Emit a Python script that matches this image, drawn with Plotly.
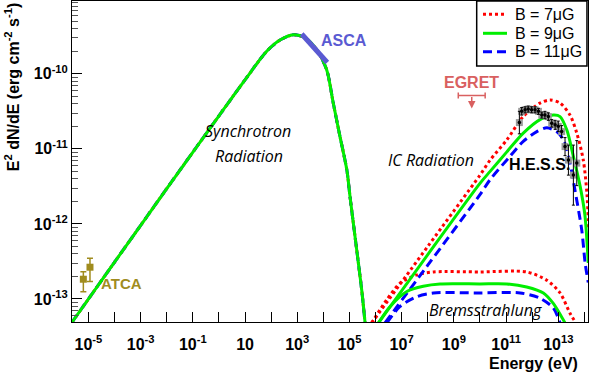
import numpy as np
import plotly.graph_objects as go

# ---------------- data (log10 E [eV], log10 E^2dN/dE [erg cm^-2 s^-1]) ----------------
sync_logE = [-5.63, -4.0, -2.0, 0.0, 1.0, 1.83, 2.34, 2.85, 3.30, 3.75, 4.13, 4.38, 4.64, 4.90, 5.03, 5.28, 5.47, 5.60]
sync_logF = [-13.31, -12.51, -11.53, -10.56, -10.08, -9.70, -9.55, -9.48, -9.52, -9.68, -9.95, -10.39, -10.84, -11.28, -11.66, -12.35, -12.88, -13.32]

ic7_logE = [5.85, 8.0, 10.0, 10.39, 11.03, 11.66, 12.30, 12.69, 13.07, 13.45, 13.71, 13.96, 14.10, 14.16]
ic7_logF = [-13.32, -12.30, -11.35, -11.15, -10.88, -10.57, -10.39, -10.35, -10.39, -10.55, -10.79, -11.15, -11.60, -12.05]
ic9_logE = [6.11, 8.0, 10.0, 10.39, 11.03, 11.66, 12.30, 12.81, 13.07, 13.33, 13.58, 13.84, 14.02, 14.15]
ic9_logF = [-13.32, -12.41, -11.46, -11.30, -11.04, -10.79, -10.61, -10.55, -10.57, -10.75, -11.10, -11.50, -11.88, -12.52]
ic11_logE = [6.36, 8.0, 10.0, 10.39, 11.15, 11.66, 12.18, 12.56, 12.94, 13.20, 13.45, 13.64, 13.90, 14.03, 14.15]
ic11_logF = [-13.32, -12.55, -11.61, -11.41, -11.10, -10.90, -10.77, -10.72, -10.77, -10.88, -11.19, -11.55, -12.08, -12.52, -12.78]

br7_logE = [5.85, 6.43, 6.94, 7.58, 8.22, 10.0, 11.79, 12.56, 13.07, 13.45, 13.64]
br7_logF = [-13.32, -13.01, -12.79, -12.68, -12.64, -12.64, -12.64, -12.75, -12.92, -13.19, -13.30]
br9_logE = [6.11, 6.56, 7.20, 7.83, 8.47, 10.0, 11.03, 11.79, 12.43, 12.81, 13.13, 13.26]
br9_logF = [-13.32, -13.10, -12.90, -12.83, -12.80, -12.80, -12.80, -12.84, -12.92, -13.06, -13.24, -13.32]
br11_logE = [6.43, 6.94, 7.58, 8.22, 10.0, 11.54, 12.30, 12.81, 13.07]
br11_logF = [-13.32, -13.10, -12.97, -12.92, -12.92, -12.92, -12.99, -13.12, -13.32]

hess_logE = [11.51, 11.60, 11.73, 11.85, 11.98, 12.11, 12.24, 12.37, 12.49, 12.62, 12.75, 12.88, 13.00, 13.13, 13.26, 13.39, 13.58, 13.71]
hess_logF = [-10.65, -10.50, -10.48, -10.47, -10.48, -10.48, -10.50, -10.55, -10.55, -10.57, -10.66, -10.68, -10.70, -10.77, -10.97, -11.15, -11.35, -11.19]
hess_err = [0.15, 0.05, 0.04, 0.04, 0.04, 0.04, 0.04, 0.04, 0.05, 0.05, 0.05, 0.06, 0.07, 0.08, 0.12, 0.20, 0.40, 0.30]

atca_logE = [-5.195, -4.941]
atca_logF = [-12.737, -12.577]
atca_logF_hi = [-12.636, -12.457]
atca_logF_lo = [-12.903, -12.769]

asca_logE = [3.17, 4.15]
asca_logF = [-9.47, -9.85]

egret_logE = [9.686]
egret_logE_lo = [9.17]
egret_logE_hi = [10.20]
egret_logF = [-10.29]

legend_labels = ["B = 7\u03bcG", "B = 9\u03bcG", "B = 11\u03bcG"]

x_label_exp = [-5, -3, -1, 1, 3, 5, 7, 9, 11, 13]
x_label_text = ["10<sup>-5</sup>", "10<sup>-3</sup>", "10<sup>-1</sup>", "10", "10<sup>3</sup>",
                "10<sup>5</sup>", "10<sup>7</sup>", "10<sup>9</sup>", "10<sup>11</sup>", "10<sup>13</sup>"]
x_minor_exp = [-4, -2, 0, 2, 4, 6, 8, 10, 12, 14]
y_tick_exp = [-13, -12, -11, -10]
y_tick_text = ["10<sup>-13</sup>", "10<sup>-12</sup>", "10<sup>-11</sup>", "10<sup>-10</sup>"]

RED, GREEN, BLUE = "#ff0000", "#00ee00", "#0000ff"
FONT = "Liberation Sans"
IT_FONT = "Open Sans"

STYLE7 = dict(color=RED, width=3, dash="dot")
STYLE9 = dict(color=GREEN, width=3)
STYLE11 = dict(color=BLUE, width=3, dash="9px,5px")


def p(v):
    return 10.0 ** np.asarray(v, dtype=float)


def model(ic_e, ic_f, br_e, br_f):
    xs = list(sync_logE) + [np.nan] + list(ic_e) + [np.nan] + list(br_e)
    ys = list(sync_logF) + [np.nan] + list(ic_f) + [np.nan] + list(br_f)
    return p(xs), p(ys)


fig = go.Figure()

models = [
    (legend_labels[0], ic7_logE, ic7_logF, br7_logE, br7_logF, STYLE7),
    (legend_labels[2], ic11_logE, ic11_logF, br11_logE, br11_logF, STYLE11),
    (legend_labels[1], ic9_logE, ic9_logF, br9_logE, br9_logF, STYLE9),
]
for name, ie, iff, be, bf, line in models:
    xs, ys = model(ie, iff, be, bf)
    fig.add_trace(go.Scatter(x=xs, y=ys, mode="lines", name=name, line=dict(shape="spline", smoothing=0.8, **line),
                             connectgaps=False, showlegend=False, hoverinfo="skip"))

# ASCA
fig.add_trace(go.Scatter(x=p(asca_logE), y=p(asca_logF), mode="lines", line=dict(color="#5a5ad2", width=5),
                         showlegend=False))

# ATCA
aF = p(atca_logF)
fig.add_trace(go.Scatter(x=p(atca_logE), y=aF, mode="markers",
                         marker=dict(symbol="square", size=7, color="#a08c1e"),
                         error_y=dict(type="data", symmetric=False, array=p(atca_logF_hi) - aF,
                                      arrayminus=aF - p(atca_logF_lo), color="#a08c1e", thickness=1.5, width=3),
                         showlegend=False))

# EGRET upper limit
eE = p(egret_logE)
fig.add_trace(go.Scatter(x=eE, y=p(egret_logF), mode="markers", marker=dict(size=1, color="#d96060"),
                         error_x=dict(type="data", symmetric=False, array=p(egret_logE_hi) - eE,
                                      arrayminus=eE - p(egret_logE_lo), color="#d96060", thickness=1.5, width=3),
                         showlegend=False))

# HESS
hF = p(hess_logF)
herr = np.asarray(hess_err)
fig.add_trace(go.Scatter(x=p(hess_logE), y=hF, mode="markers",
                         marker=dict(symbol="square", size=7, color="#9a9a9a"), showlegend=False))
fig.add_trace(go.Scatter(x=p(hess_logE), y=hF, mode="markers",
                         marker=dict(symbol="circle", size=3.5, color="black"),
                         error_y=dict(type="data", symmetric=False, array=p(np.asarray(hess_logF) + herr) - hF,
                                      arrayminus=hF - p(np.asarray(hess_logF) - herr), color="black",
                                      thickness=1, width=1.5),
                         showlegend=False))

annos = [
    dict(x=asca_logE[1] + 0.65, y=asca_logF[0] - 0.09, text="<b>ASCA</b>", font=dict(family=FONT, size=16, color="#5a5ad2")),
    dict(x=-3.73, y=-12.80, text="<b>ATCA</b>", font=dict(family=FONT, size=15, color="#a08c1e")),
    dict(x=egret_logE[0], y=-10.12, text="<b>EGRET</b>", font=dict(family=FONT, size=16, color="#d96060")),
    dict(x=12.30, y=-11.21, text="<b>H.E.S.S.</b>", font=dict(family=FONT, size=16, color="black")),
    dict(x=1.115, y=-10.76, text="Synchrotron", font=dict(family=IT_FONT, size=16, color="black", style="italic")),
    dict(x=1.153, y=-11.093, text="Radiation", font=dict(family=IT_FONT, size=16, color="black", style="italic")),
    dict(x=8.13, y=-11.147, text="IC Radiation", font=dict(family=IT_FONT, size=16, color="black", style="italic")),
    dict(x=10.23, y=-13.147, text="Bremsstrahlung", font=dict(family=IT_FONT, size=16, color="black", style="italic")),
]
for a in annos:
    fig.add_annotation(xref="x", yref="y", showarrow=False, xanchor="center", yanchor="middle", **a)

# EGRET arrow
fig.add_annotation(xref="x", yref="y", x=egret_logE[0], y=egret_logF[0], text="", showarrow=True,
                   ax=0, ay=-13, yshift=-13, arrowhead=2, arrowsize=1, arrowwidth=1.5, arrowcolor="#d96060")

# axis titles
fig.add_annotation(xref="paper", yref="paper", x=0.9845, y=-0.13, xanchor="right", yanchor="middle",
                   text="<b>Energy (eV)</b>", showarrow=False, font=dict(family=FONT, size=16, color="black"))
fig.add_annotation(xref="paper", yref="paper", x=-0.116, y=0.732, xanchor="center", yanchor="middle", textangle=-90,
                   text="<b>E<sup>2</sup> dN/dE (erg cm<sup>-2</sup> s<sup>-1</sup>)</b>", showarrow=False,
                   font=dict(family=FONT, size=16, color="black"))

# legend box (ROOT-style TLegend, top-right corner of the frame)
LX0, LX1, LY0, LY1 = 0.7843, 0.998, 0.7975, 1.0
fig.add_shape(type="rect", xref="paper", yref="paper", x0=LX0, x1=LX1, y0=LY0, y1=LY1,
              line=dict(color="black", width=1.5), fillcolor="white", layer="above")
row_y = [0.9586, 0.8994, 0.8421]
for label, style, ry in zip(legend_labels, [STYLE7, STYLE9, STYLE11], row_y):
    fig.add_shape(type="line", xref="paper", yref="paper", x0=0.7965, x1=0.8430, y0=ry, y1=ry,
                  line=style, layer="above")
    fig.add_annotation(xref="paper", yref="paper", x=0.8547, y=ry, xanchor="left", yanchor="middle",
                       text=label, showarrow=False, font=dict(family=FONT, size=16, color="black"))

fig.update_layout(
    width=592, height=373, margin=dict(l=72, r=4, t=1, b=51),
    paper_bgcolor="white", plot_bgcolor="white", showlegend=False,
    xaxis=dict(type="log", range=[-5.63, 14.14], showgrid=False, zeroline=False, showline=True, linecolor="black",
               linewidth=1, mirror=True, ticks="inside", ticklen=10, tickcolor="black",
               tickmode="array", tickvals=[10.0 ** k for k in x_label_exp], ticktext=x_label_text,
               ticklabelstandoff=8,
               tickfont=dict(family=FONT, size=16, color="black", weight="bold"),
               minor=dict(ticks="inside", ticklen=10, tickcolor="black", tickmode="array",
                          tickvals=[10.0 ** k for k in x_minor_exp], showgrid=False)),
    yaxis=dict(type="log", range=[-13.307, -9.03], showgrid=False, zeroline=False, showline=True, linecolor="black",
               linewidth=1, mirror=True, ticks="inside", ticklen=10, tickcolor="black",
               tickmode="array", tickvals=[10.0 ** k for k in y_tick_exp], ticktext=y_tick_text,
               tickfont=dict(family=FONT, size=16, color="black", weight="bold"),
               minor=dict(ticks="inside", ticklen=6, tickcolor="#555555", dtick="D1", showgrid=False)),
)

fig.write_html("out.html", config={"displayModeBar": False},
               post_script="document.body.style.margin='0px';document.body.style.overflow='hidden';")
